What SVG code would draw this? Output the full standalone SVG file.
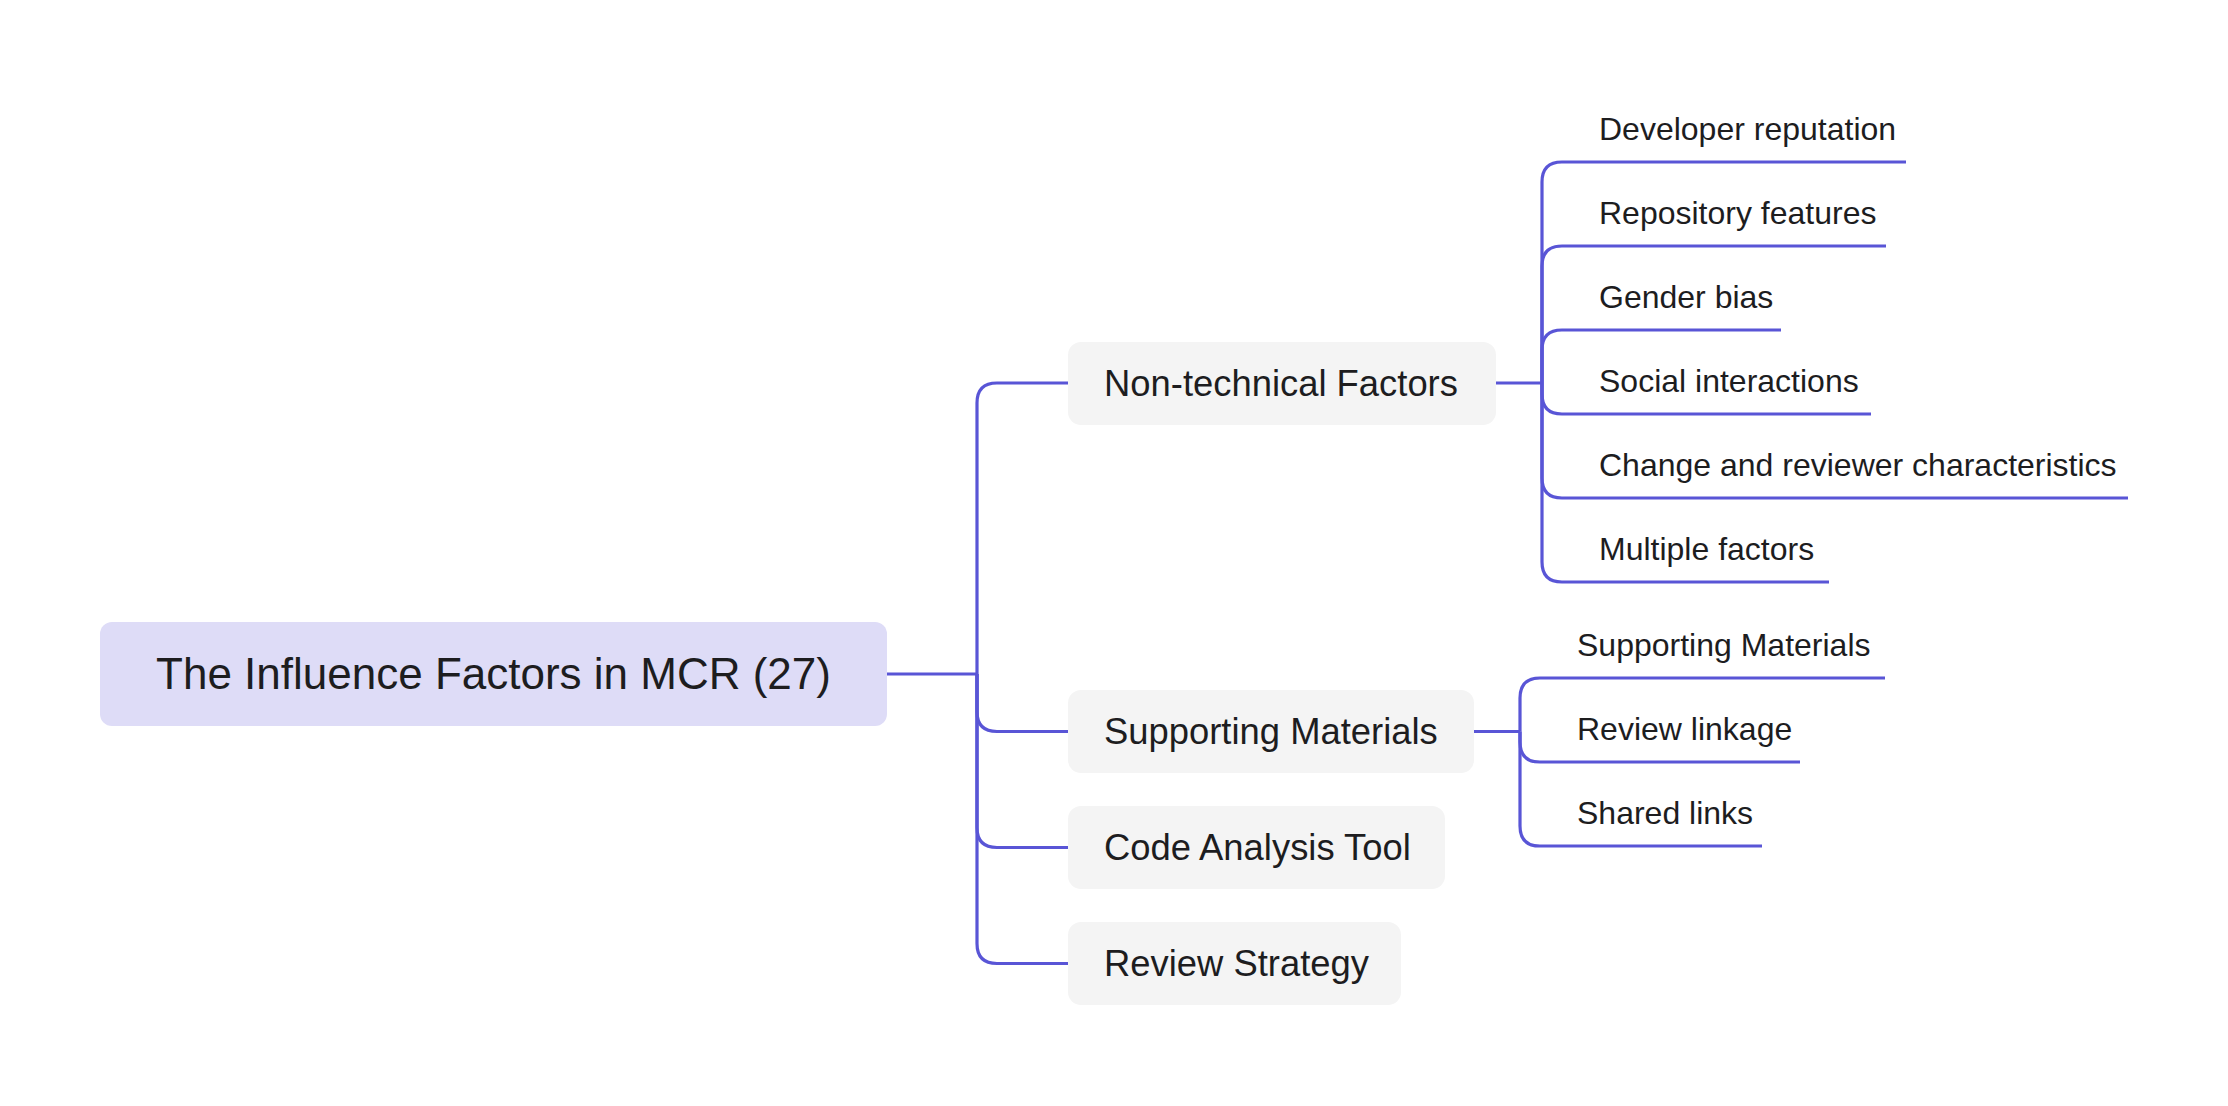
<svg xmlns="http://www.w3.org/2000/svg" width="2228" height="1106" viewBox="0 0 2228 1106">
<style>
.edge{fill:none;stroke:#5955d6;stroke-width:3.2;stroke-linecap:butt;stroke-linejoin:round}
.root rect{fill:#dedcf7}
.node rect{fill:#f4f4f4}
text{font-family:"Liberation Sans",Arial,Helvetica,sans-serif;fill:#1d1d1f}
.root text{font-size:44px}
.node text{font-size:36.4px}
.leaf text{font-size:32px}
</style>
<rect width="2228" height="1106" fill="#ffffff"/>
<g id="connectors">
<path class="edge" d="M887 674H977"/>
<path class="edge" d="M977 674V403Q977 383 997 383H1068"/>
<path class="edge" d="M977 674V711.5Q977 731.5 997 731.5H1068"/>
<path class="edge" d="M977 674V827.5Q977 847.5 997 847.5H1068"/>
<path class="edge" d="M977 674V943.5Q977 963.5 997 963.5H1068"/>
<path class="edge" d="M1496 383H1542"/>
<path class="edge" d="M1542 383V182Q1542 162 1562 162H1906"/>
<path class="edge" d="M1542 383V266Q1542 246 1562 246H1886"/>
<path class="edge" d="M1542 383V350Q1542 330 1562 330H1781"/>
<path class="edge" d="M1542 383V394Q1542 414 1562 414H1871"/>
<path class="edge" d="M1542 383V478Q1542 498 1562 498H2128"/>
<path class="edge" d="M1542 383V562Q1542 582 1562 582H1829"/>
<path class="edge" d="M1474 731.5H1520"/>
<path class="edge" d="M1520 731.5V698Q1520 678 1540 678H1885"/>
<path class="edge" d="M1520 731.5V742Q1520 762 1540 762H1800"/>
<path class="edge" d="M1520 731.5V826Q1520 846 1540 846H1762"/>
</g>
<g id="root" class="root">
<rect x="100" y="622" width="787" height="104" rx="12"/>
<text x="493.5" y="689" text-anchor="middle">The Influence Factors in MCR (27)</text>
</g>
<g id="n-nontech" class="node">
<rect x="1068" y="342" width="428" height="83" rx="13"/>
<text x="1104" y="396">Non-technical Factors</text>
</g>
<g id="n-support" class="node">
<rect x="1068" y="690" width="406" height="83" rx="13"/>
<text x="1104" y="744">Supporting Materials</text>
</g>
<g id="n-code" class="node">
<rect x="1068" y="806" width="377" height="83" rx="13"/>
<text x="1104" y="860">Code Analysis Tool</text>
</g>
<g id="n-review" class="node">
<rect x="1068" y="922" width="333" height="83" rx="13"/>
<text x="1104" y="976">Review Strategy</text>
</g>
<g id="l-dev" class="leaf"><text x="1599" y="140">Developer reputation</text></g>
<g id="l-repo" class="leaf"><text x="1599" y="224">Repository features</text></g>
<g id="l-gender" class="leaf"><text x="1599" y="308">Gender bias</text></g>
<g id="l-social" class="leaf"><text x="1599" y="392">Social interactions</text></g>
<g id="l-change" class="leaf"><text x="1599" y="476">Change and reviewer characteristics</text></g>
<g id="l-multi" class="leaf"><text x="1599" y="560">Multiple factors</text></g>
<g id="l-supmat" class="leaf"><text x="1577" y="656">Supporting Materials</text></g>
<g id="l-link" class="leaf"><text x="1577" y="740">Review linkage</text></g>
<g id="l-shared" class="leaf"><text x="1577" y="824">Shared links</text></g>
</svg>
